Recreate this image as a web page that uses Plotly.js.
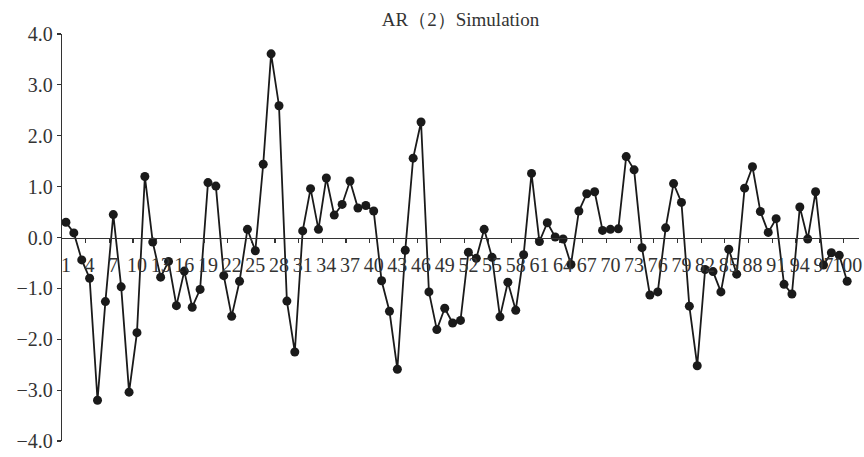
<!DOCTYPE html>
<html>
<head>
<meta charset="utf-8">
<script src="https://cdn.plot.ly/plotly-3.0.1.min.js"></script>
<style>html,body{margin:0;padding:0;background:#fff;}#chart{width:864px;height:457px;}</style>
</head>
<body>
<div id="chart"></div>
<script>
const chartTitle = "AR（2）Simulation";
const periods = [1,2,3,4,5,6,7,8,9,10,11,12,13,14,15,16,17,18,19,20,
  21,22,23,24,25,26,27,28,29,30,31,32,33,34,35,36,37,38,39,40,
  41,42,43,44,45,46,47,48,49,50,51,52,53,54,55,56,57,58,59,60,
  61,62,63,64,65,66,67,68,69,70,71,72,73,74,75,76,77,78,79,80,
  81,82,83,84,85,86,87,88,89,90,91,92,93,94,95,96,97,98,99,100];
const values = [0.30,0.09,-0.44,-0.80,-3.20,-1.26,0.45,-0.97,-3.04,-1.87,
  1.20,-0.09,-0.78,-0.47,-1.34,-0.66,-1.37,-1.02,1.08,1.01,
  -0.75,-1.55,-0.86,0.16,-0.26,1.44,3.61,2.59,-1.25,-2.25,
  0.13,0.96,0.16,1.17,0.44,0.65,1.11,0.58,0.63,0.52,
  -0.85,-1.45,-2.59,-0.25,1.56,2.27,-1.07,-1.81,-1.39,-1.68,
  -1.63,-0.29,-0.41,0.16,-0.39,-1.56,-0.88,-1.43,-0.34,1.26,
  -0.08,0.29,0.01,-0.03,-0.53,0.52,0.86,0.90,0.14,0.16,
  0.17,1.59,1.33,-0.20,-1.13,-1.07,0.19,1.06,0.69,-1.35,
  -2.52,-0.63,-0.67,-1.07,-0.23,-0.72,0.97,1.39,0.51,0.10,
  0.37,-0.92,-1.11,0.60,-0.03,0.90,-0.54,-0.30,-0.35,-0.86];
const xTickVals = [1,4,7,10,13,16,19,22,25,28,31,34,37,40,43,46,49,52,55,58,61,64,67,70,73,76,79,82,85,88,91,94,97,100];
const xTickText = ["1","4","7","10","13","16","19","22","25","28","31","34","37","40","43","46","49","52","55","58","61","64","67","70","73","76","79","82","85","88","91","94","97","100"];
const yTickVals = [-4,-3,-2,-1,0,1,2,3,4];

const minorTicks = xTickVals.map(v => v + 2.5);

const fontFamily = "Liberation Serif";
const ink = "#1a1a1a";

const trace = {
  x: periods,
  y: values,
  type: "scatter",
  mode: "lines+markers",
  line: {color: ink, width: 1.8},
  marker: {color: ink, size: 9},
  hoverinfo: "x+y"
};

const layout = {
  width: 864,
  height: 457,
  margin: {l: 62, r: 5, t: 34, b: 16},
  paper_bgcolor: "#ffffff",
  plot_bgcolor: "#ffffff",
  showlegend: false,
  font: {family: fontFamily, size: 20, color: "#333333"},
  title: {
    text: chartTitle,
    font: {family: fontFamily, size: 19, color: "#333333"},
    x: 0.5, xref: "paper", xanchor: "center",
    y: 0.957, yref: "container", yanchor: "middle"
  },
  xaxis: {
    range: [0.5, 101.5],
    anchor: "free",
    position: 0.5,
    showline: true,
    linecolor: "#333333",
    linewidth: 1.3,
    showgrid: false,
    zeroline: false,
    tickmode: "array",
    tickvals: xTickVals,
    ticktext: xTickText,
    tickangle: 0,
    ticks: "outside",
    ticklen: 9,
    tickcolor: "rgba(0,0,0,0)",
    tickfont: {family: fontFamily, size: 20, color: "#333333"},
    minor: {
      tickmode: "array",
      tickvals: minorTicks,
      ticks: "outside",
      ticklen: 4,
      tickwidth: 1.2,
      tickcolor: "#333333",
      showgrid: false
    }
  },
  yaxis: {
    range: [-4, 4],
    showline: true,
    linecolor: "#333333",
    linewidth: 1.3,
    showgrid: false,
    zeroline: false,
    tickmode: "array",
    tickvals: yTickVals,
    tickformat: ".1f",
    ticks: "outside",
    ticklen: 4,
    tickwidth: 1.2,
    tickcolor: "#333333",
    tickfont: {family: fontFamily, size: 20, color: "#333333"}
  }
};

Plotly.newPlot("chart", [trace], layout, {displayModeBar: false, staticPlot: true});
</script>
</body>
</html>
